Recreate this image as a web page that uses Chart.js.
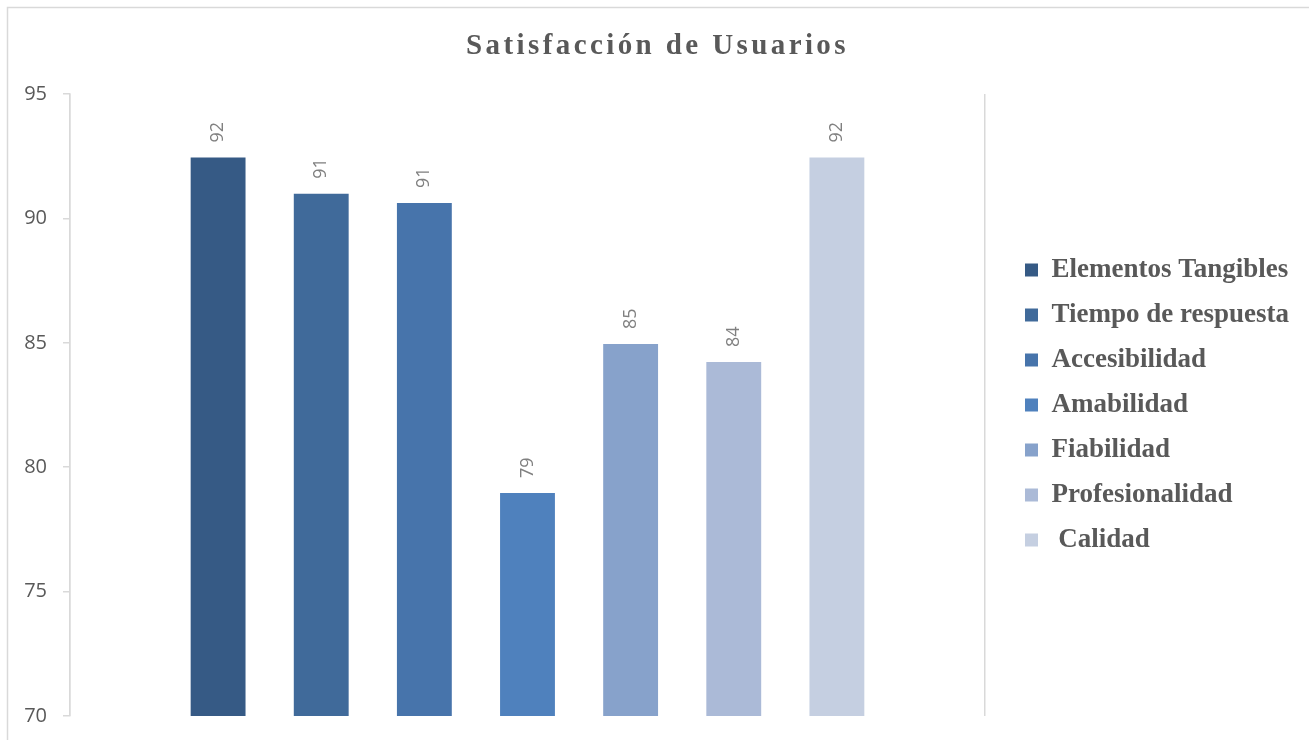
<!DOCTYPE html>
<html>
<head>
<meta charset="utf-8">
<title>Satisfacción de Usuarios</title>
<script src="https://cdn.jsdelivr.net/npm/chart.js@4"></script>
<style>
  html, body { margin: 0; padding: 0; background: #fff; }
  #wrap { position: relative; width: 1309px; height: 740px; }
</style>
</head>
<body>
<div id="wrap"><canvas id="satisfaccionChart"></canvas></div>
<script>
// ===== DATA =====
const TITLE = 'Satisfacción de Usuarios';
const SERIES = ['Elementos Tangibles', 'Tiempo de respuesta', 'Accesibilidad', 'Amabilidad',
                'Fiabilidad', 'Profesionalidad', ' Calidad'];
const VALUES = [92.45, 90.99, 90.62, 78.96, 84.95, 84.23, 92.45];
const COLORS = ['#365a85', '#406a9a', '#4774ab', '#4f81bd', '#87a2cb', '#abbad7', '#c5cfe1'];
const Y_MIN = 70;
const Y_MAX = 95;
const Y_STEP = 5;

const GRID_GRAY = '#d9d9d9';
const TEXT_GRAY = '#595959';

// one category, one dataset per series (clustered like a spreadsheet chart)
const datasets = SERIES.map((name, i) => ({
    label: name,
    data: [VALUES[i]],
    backgroundColor: COLORS[i],
    borderWidth: 0,
    categoryPercentage: 0.789,
    barPercentage: 0.532
}));

// frame + spaced-out title
const framePlugin = {
    id: 'frame',
    beforeDraw(chart) {
        const ctx = chart.ctx;
        ctx.save();
        ctx.fillStyle = '#fff';
        ctx.fillRect(0, 0, chart.width, chart.height);
        ctx.strokeStyle = GRID_GRAY;
        ctx.lineWidth = 1.5;
        ctx.strokeRect(7.5, 7.5, chart.width + 10, chart.height + 10);
        ctx.restore();
    },
    afterDraw(chart) {
        const ctx = chart.ctx;
        ctx.save();
        ctx.font = 'bold 29px "Liberation Serif", "Times New Roman", serif';
        ctx.letterSpacing = '3.4px';
        ctx.fillStyle = TEXT_GRAY;
        ctx.textAlign = 'center';
        ctx.textBaseline = 'middle';
        ctx.fillText(TITLE, chart.width / 2 + 3, 47);
        ctx.restore();
    }
};

// rotated value labels above each bar
const valueLabels = {
    id: 'valueLabels',
    afterDatasetsDraw(chart) {
        const ctx = chart.ctx;
        ctx.save();
        ctx.font = '18px "Open Sans", sans-serif';
        ctx.fillStyle = '#808080';
        ctx.textAlign = 'left';
        ctx.textBaseline = 'middle';
        chart.data.datasets.forEach((ds, i) => {
            const bar = chart.getDatasetMeta(i).data[0];
            if (!bar) return;
            ctx.save();
            ctx.translate(bar.x, bar.y - 15);
            ctx.rotate(-Math.PI / 2);
            ctx.fillText(ds.data[0].toFixed(0), 0, 0);
            ctx.restore();
        });
        ctx.restore();
    }
};

// the layout caps side boxes at a fraction of the width; let the legend keep its full width
const wideLegend = {
    id: 'wideLegend',
    beforeLayout(chart) {
        const legend = chart.legend;
        if (!legend || legend._wide) return;
        const fit = legend.fit;
        legend.fit = function () {
            this.maxWidth = Math.max(this.maxWidth, 340);
            return fit.call(this);
        };
        legend._wide = true;
    }
};

const ctx = document.getElementById('satisfaccionChart').getContext('2d');
new Chart(ctx, {
    type: 'bar',
    data: { labels: [''], datasets },
    options: {
        responsive: true,
        maintainAspectRatio: false,
        animation: false,
        layout: { padding: { top: 94, bottom: 24, left: 0, right: 10 } },
        plugins: {
            title: { display: false },
            tooltip: { enabled: false },
            legend: {
                position: 'right',
                align: 'center',
                labels: {
                    boxWidth: 13,
                    boxHeight: 13,
                    padding: 18,
                    color: TEXT_GRAY,
                    font: { family: '"Liberation Serif", "Times New Roman", serif', size: 27, weight: 'bold' }
                }
            }
        },
        scales: {
            x: {
                type: 'category',
                afterFit(scale) { scale.height = 0; },
                ticks: { display: false },
                grid: { display: true, offset: true, color: GRID_GRAY, lineWidth: 1.5, drawTicks: false },
                border: { display: false }
            },
            y: {
                min: Y_MIN,
                max: Y_MAX,
                afterFit(scale) {
                    scale.width = 70;
                    // end labels may overhang into the layout padding
                    scale.paddingTop = 0;
                    scale.paddingBottom = 0;
                },
                ticks: {
                    stepSize: Y_STEP,
                    padding: 16,
                    color: TEXT_GRAY,
                    font: { family: '"Open Sans", sans-serif', size: 20 }
                },
                grid: { drawOnChartArea: false, drawTicks: true, tickLength: 7, color: GRID_GRAY, lineWidth: 1.5 },
                border: { display: true, color: GRID_GRAY, width: 1.5 }
            },
            // empty strip between plot area and legend
            gap: {
                type: 'linear',
                position: 'right',
                afterFit(scale) { scale.width = 22; },
                ticks: { display: false },
                grid: { display: false },
                border: { display: false }
            }
        }
    },
    plugins: [framePlugin, valueLabels, wideLegend]
});
</script>
</body>
</html>
